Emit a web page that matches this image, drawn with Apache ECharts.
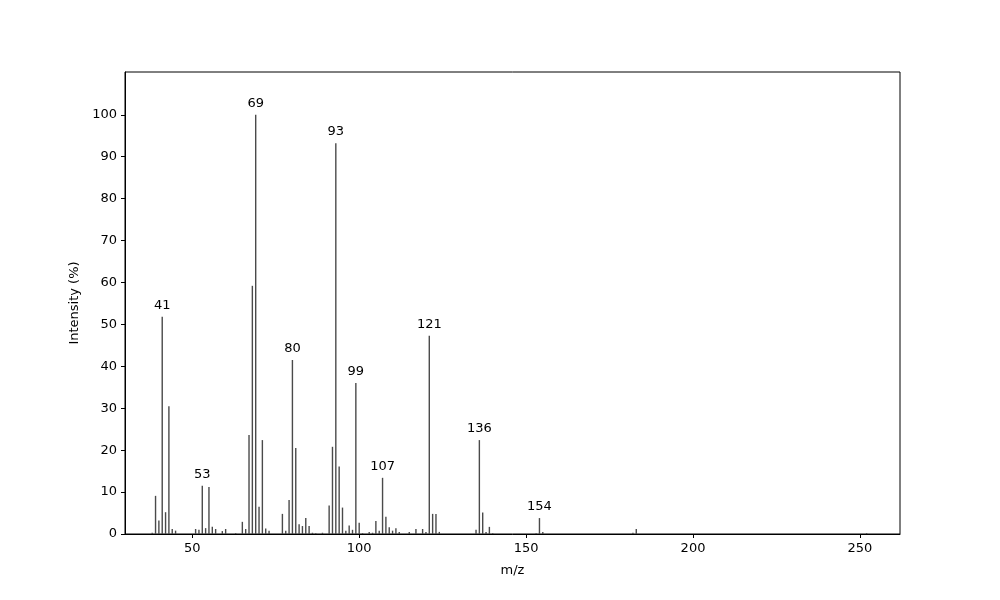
<!DOCTYPE html>
<html>
<head>
<meta charset="utf-8">
<script src="https://cdn.jsdelivr.net/npm/echarts@6/dist/echarts.min.js"></script>
<style>
  html, body { margin: 0; padding: 0; background: #fff; }
  #main { width: 1000px; height: 600px; }
</style>
</head>
<body>
<div id="main"></div>
<script>
// m/z values and relative intensities
var mzValues = [38, 39, 40, 41, 42, 43, 44, 45, 51, 52, 53, 54, 55, 56, 57, 59, 60, 63, 65, 66,
  67, 68, 69, 70, 71, 72, 73, 77, 78, 79, 80, 81, 82, 83, 84, 85, 86, 87, 89, 91,
  92, 93, 94, 95, 96, 97, 98, 99, 100, 101, 103, 104, 105, 106, 107, 108, 109, 110, 111, 112,
  115, 117, 119, 120, 121, 122, 123, 124, 135, 136, 137, 138, 139, 140, 153, 154, 155, 182, 183, 252];
var intensities = [0.3, 9.1, 3.2, 51.8, 5.2, 30.5, 1.2, 0.8, 1.2, 1.0, 11.5, 1.4, 11.2, 1.7, 1.2, 0.7, 1.2, 0.2, 2.9, 1.2,
  23.6, 59.2, 100, 6.5, 22.4, 1.3, 0.8, 4.8, 0.8, 8.1, 41.5, 20.5, 2.3, 1.9, 3.8, 1.9, 0.3, 0.2, 0.3, 6.8,
  20.8, 93.2, 16.1, 6.3, 0.8, 2.0, 1.0, 36.0, 2.7, 0.2, 0.5, 0.3, 3.1, 0.8, 13.4, 4.1, 1.6, 0.8, 1.4, 0.5,
  0.5, 1.2, 1.2, 0.5, 47.3, 4.8, 4.8, 0.5, 1.0, 22.4, 5.1, 0.5, 1.7, 0.2, 0.2, 3.8, 0.5, 0.3, 1.2, 0.2];
// peaks that get their m/z written above them
var labelledPeaks = [41, 53, 69, 80, 93, 99, 107, 121, 136, 154];
var xTicks = [50, 100, 150, 200, 250];
var yTicks = [0, 10, 20, 30, 40, 50, 60, 70, 80, 90, 100];

var chart = echarts.init(document.getElementById('main'));

var barData = mzValues.map(function (mz, i) {
  var item = { value: [mz, intensities[i]] };
  if (labelledPeaks.indexOf(mz) >= 0) {
    item.label = { show: true };
  }
  return item;
});

var font = 'DejaVu Sans';

var option = {
  animation: false,
  textStyle: { fontFamily: font },
  grid: {
    left: 125, right: 100, top: 72, bottom: 66,
    show: true, borderColor: '#000', borderWidth: 1
  },
  xAxis: {
    type: 'value',
    min: 29.85,
    max: 262,
    name: 'm/z',
    nameLocation: 'middle',
    nameGap: 30,
    nameTextStyle: { color: '#000', fontSize: 13, fontFamily: font },
    axisLine: { lineStyle: { color: '#000', width: 1 } },
    axisTick: { show: true, length: 4, inside: false, customValues: xTicks, lineStyle: { color: '#000' } },
    axisLabel: { customValues: xTicks, color: '#000', fontSize: 13, margin: 8, fontFamily: font },
    splitLine: { show: false }
  },
  yAxis: {
    type: 'value',
    min: 0,
    max: 110.2,
    name: 'Intensity (%)',
    nameLocation: 'middle',
    nameGap: 44,
    nameRotate: 90,
    nameTextStyle: { color: '#000', fontSize: 13, fontFamily: font },
    axisLine: { show: true, lineStyle: { color: '#000', width: 1 } },
    axisTick: { show: true, length: 4, customValues: yTicks, lineStyle: { color: '#000' } },
    axisLabel: { customValues: yTicks, color: '#000', fontSize: 13, margin: 8, fontFamily: font },
    splitLine: { show: false }
  },
  series: [{
    type: 'bar',
    barWidth: 1.4,
    data: barData,
    itemStyle: { color: '#4a4a4a' },
    label: {
      show: false,
      position: 'top',
      distance: 5,
      color: '#000',
      fontSize: 13,
      fontFamily: font,
      formatter: function (p) { return p.value[0]; }
    }
  }]
};

chart.setOption(option);
</script>
</body>
</html>
